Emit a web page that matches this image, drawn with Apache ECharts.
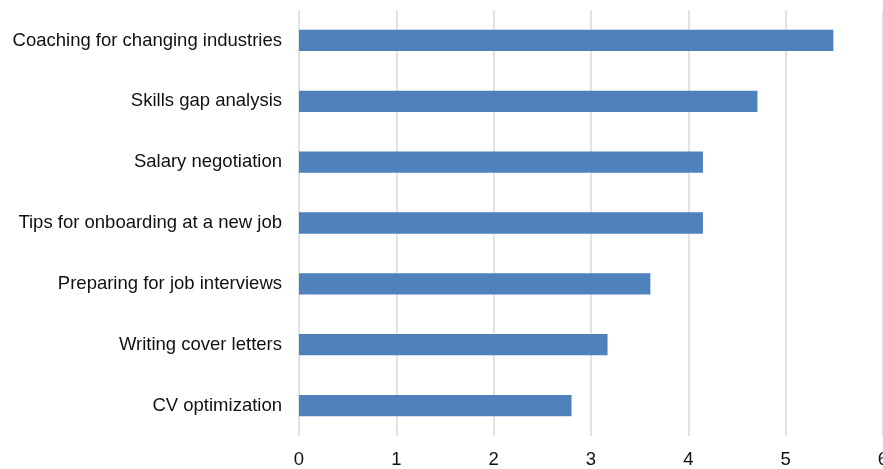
<!DOCTYPE html>
<html>
<head>
<meta charset="utf-8">
<script src="https://cdn.jsdelivr.net/npm/echarts@6/dist/echarts.min.js"></script>
<style>
  html, body { margin: 0; padding: 0; background: #ffffff; }
  #chart { width: 883px; height: 469px; }
</style>
</head>
<body>
<div id="chart"></div>
<script>
// Service topics, listed top to bottom
const categories = [
  'Coaching for changing industries',
  'Skills gap analysis',
  'Salary negotiation',
  'Tips for onboarding at a new job',
  'Preparing for job interviews',
  'Writing cover letters',
  'CV optimization'
];

// Score per topic
const scores = [5.49, 4.71, 4.15, 4.15, 3.61, 3.17, 2.80];

// Value axis ticks
const axisMin = 0;
const axisMax = 6;
const axisStep = 1;

const fontFamily = '"Liberation Sans", Arial, Helvetica, sans-serif';

const chart = echarts.init(document.getElementById('chart'), null, { renderer: 'canvas' });

chart.setOption({
  animation: false,
  backgroundColor: '#ffffff',
  grid: {
    left: 299,
    right: 0,
    top: 10,
    bottom: 33,
    containLabel: false,
    outerBoundsMode: 'none'
  },
  xAxis: {
    type: 'value',
    min: axisMin,
    max: axisMax,
    interval: axisStep,
    axisLine: { show: false },
    axisTick: { show: false },
    splitLine: { show: true, lineStyle: { color: '#d9d9d9', width: 1.5 } },
    axisLabel: {
      color: '#111111',
      fontFamily: fontFamily,
      fontSize: 18.5,
      margin: 14,
      showMaxLabel: true
    }
  },
  yAxis: {
    type: 'category',
    data: categories,
    inverse: true,
    axisLine: { show: false },
    axisTick: { show: false },
    splitLine: { show: false },
    axisLabel: {
      color: '#111111',
      fontFamily: fontFamily,
      fontSize: 18.5,
      margin: 17
    }
  },
  series: [{
    type: 'bar',
    data: scores,
    barWidth: '35%',
    itemStyle: { color: '#4f81bd' },
    emphasis: { disabled: true }
  }]
});
</script>
</body>
</html>
